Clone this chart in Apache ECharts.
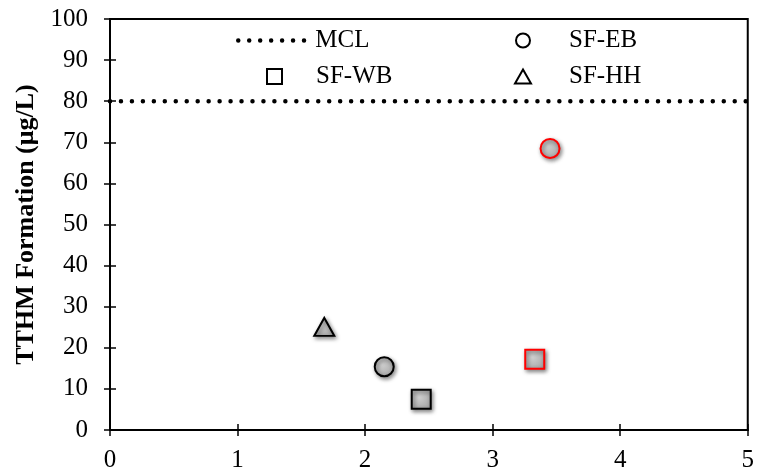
<!DOCTYPE html>
<html>
<head>
<meta charset="utf-8">
<script src="https://cdn.jsdelivr.net/npm/echarts@6/dist/echarts.min.js"></script>
<style>html,body{margin:0;padding:0;background:#fff;}#c{width:757px;height:476px;}</style>
</head>
<body>
<div id="c"></div>
<script>
// ---- data ----
var xTicks = [0, 1, 2, 3, 4, 5];
var yTicks = [0, 10, 20, 30, 40, 50, 60, 70, 80, 90, 100];
var mclValue = 80;
var mclLine = [[0, mclValue], [5, mclValue]];
var sfEB = [[2.15, 15.4]];
var sfEBRed = [[3.45, 68.5]];
var sfWB = [[2.44, 7.5]];
var sfWBRed = [[3.33, 17.2]];
var sfHH = [[1.68, 25.1]];

var font = "'Liberation Serif', 'Times New Roman', serif";
var fill = {
  type: 'radial', x: 0.4, y: 0.4, r: 0.7,
  colorStops: [{offset: 0, color: '#cfcfcf'}, {offset: 1, color: '#a4a4a4'}]
};
function pts(name, data, symbol, border) {
  return {
    name: name, type: 'scatter', data: data, symbol: symbol, symbolSize: symbol === 'triangle' ? [20, 18] : 19,
    itemStyle: {color: fill, borderColor: border, borderWidth: 2,
      shadowBlur: 4, shadowOffsetX: 1.5, shadowOffsetY: 2, shadowColor: 'rgba(0,0,0,0.45)', opacity: 1},
    emphasis: {disabled: true}, z: 5
  };
}
var legendIconStyle = {color: '#fff', borderColor: '#000', borderWidth: 2, shadowBlur: 0, shadowOffsetX: 0, shadowOffsetY: 0};
function leg(name, left, top, w, h, padLeft, iconStyle) {
  return {
    data: [{name: name, itemStyle: iconStyle || legendIconStyle}], left: left, top: top, itemWidth: w, itemHeight: h,
    textStyle: {fontFamily: font, fontSize: 25, color: '#000', padding: [0, 0, 0, padLeft]},
    selectedMode: false, padding: 0
  };
}

var chart = echarts.init(document.getElementById('c'), null, {renderer: 'canvas'});
var grid = {left: 110, right: 9, top: 19, bottom: 46, show: true, borderColor: '#000', borderWidth: 2, containLabel: false};
var axisBase = {
  type: 'value', min: 0, splitLine: {show: false},
  axisLine: {show: true, lineStyle: {color: '#000', width: 2}},
  axisTick: {show: true, inside: false, length: 6, lineStyle: {color: '#000', width: 1.5}}
};
var mclLegend = leg('MCL', 236, 28, 72, 20, 0, {color: 'transparent', borderWidth: 0, opacity: 0});
mclLegend.lineStyle = {width: 4.5};
chart.setOption({
  animation: false,
  grid: grid,
  legend: [
    mclLegend,
    leg('SF-EB', 515, 28, 14, 14, 34),
    leg('SF-WB', 266, 64, 15, 15, 29),
    leg('SF-HH', 514, 64, 16, 14, 33)
  ],
  xAxis: [
    Object.assign({}, axisBase, {
      max: 5, interval: 1,
      axisLabel: {fontFamily: font, fontSize: 25, color: '#000', margin: 18}
    }),
    Object.assign({}, axisBase, {
      max: 5, interval: 1, position: 'bottom',
      axisLine: {show: false}, axisLabel: {show: false},
      axisTick: {show: true, inside: true, length: 6, lineStyle: {color: '#000', width: 1.5}}
    })
  ],
  yAxis: [
    Object.assign({}, axisBase, {
      max: 100, interval: 10,
      axisLabel: {fontFamily: font, fontSize: 25, color: '#000', margin: 22},
      name: 'TTHM Formation (μg/L)', nameLocation: 'middle', nameGap: 67,
      nameTextStyle: {fontFamily: font, fontSize: 26, fontWeight: 'bold', color: '#000'}
    }),
    Object.assign({}, axisBase, {
      max: 100, interval: 10, position: 'left',
      axisLine: {show: false}, axisLabel: {show: false},
      axisTick: {show: true, inside: true, length: 6, lineStyle: {color: '#000', width: 1.5}}
    })
  ],
  series: [
    {
      name: 'MCL', type: 'line', data: mclLine, symbol: 'none', showSymbol: false,
      lineStyle: {color: '#000', width: 4.5, type: [0.01, 10.95], cap: 'round'},
      itemStyle: {color: '#000'}, emphasis: {disabled: true}, z: 3
    },
    pts('SF-EB', sfEB, 'circle', '#000'),
    pts('SF-EB', sfEBRed, 'circle', '#ff0000'),
    pts('SF-WB', sfWB, 'rect', '#000'),
    pts('SF-WB', sfWBRed, 'rect', '#ff0000'),
    pts('SF-HH', sfHH, 'triangle', '#000')
  ]
});
</script>
</body>
</html>
